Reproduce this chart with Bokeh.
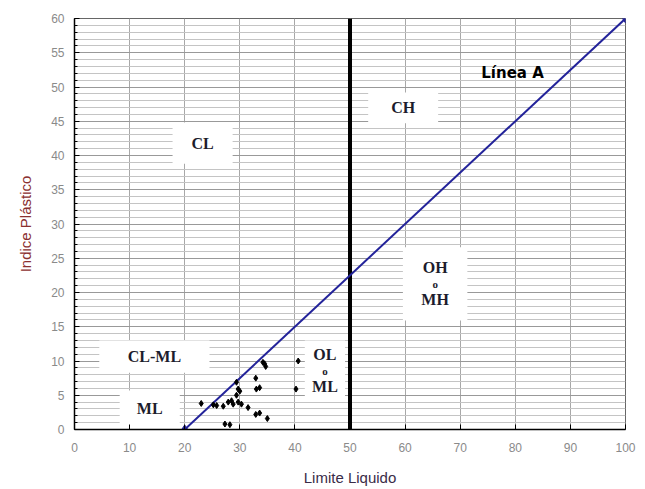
from bokeh.plotting import figure
from bokeh.models import ColumnDataSource, FixedTicker, Range1d, Label
from bokeh.embed import file_html
from bokeh.resources import INLINE

# ---- data ----
liquid_limit = [23.0, 25.2, 25.8, 27.0, 27.9, 28.5, 28.8, 29.4, 29.7, 29.4, 29.7, 30.0,
                30.3, 31.5, 32.9, 33.0, 33.6, 32.9, 33.6, 35.0, 34.2, 34.7, 34.5, 40.6,
                40.2, 27.3, 28.2]
plastic_index = [3.8, 3.6, 3.5, 3.4, 4.0, 4.2, 3.7, 5.0, 4.0, 6.9, 5.9, 5.6,
                 3.7, 3.2, 7.5, 5.9, 6.1, 2.2, 2.4, 1.6, 9.8, 9.2, 9.6, 10.0,
                 5.9, 0.8, 0.7]
a_line_ll = [20, 100]
a_line_pi = [0, 60]
boundary_ll = [50, 50]
boundary_pi = [0, 60]
x_ticks = [0, 10, 20, 30, 40, 50, 60, 70, 80, 90, 100]
y_ticks = [0, 5, 10, 15, 20, 25, 30, 35, 40, 45, 50, 55, 60]
y_minor = list(range(0, 61))

# zone labels: (text lines, box left, right, bottom, top)
zones = [
    (["CL"], 17.8, 28.7, 38.8, 44.8),
    (["CH"], 53.3, 66.0, 44.7, 49.2),
    (["OH", "o", "MH"], 59.6, 71.3, 15.9, 26.6),
    (["CL-ML"], 4.5, 24.5, 8.3, 13.0),
    (["ML"], 8.2, 19.1, 0.3, 5.7),
    (["OL", "o", "ML"], 41.8, 49.1, 4.2, 13.0),
]

p = figure(width=645, height=489, output_backend="svg", toolbar_location=None,
           x_range=Range1d(0, 100), y_range=Range1d(0, 60),
           min_border_left=74, min_border_right=20, min_border_top=18,
           min_border_bottom=60, background_fill_color="white",
           border_fill_color="white", outline_line_color="#666666")

# grid
p.xgrid.ticker = FixedTicker(ticks=x_ticks)
p.xgrid.grid_line_color = "#a8a8a8"
p.xgrid.grid_line_width = 1
p.ygrid.ticker = FixedTicker(ticks=y_ticks, minor_ticks=y_minor)
p.ygrid.grid_line_color = "#999999"
p.ygrid.minor_grid_line_color = "#c4c4c4"

# axes
p.xaxis.ticker = FixedTicker(ticks=x_ticks)
p.yaxis.ticker = FixedTicker(ticks=y_ticks, minor_ticks=y_minor)
for ax in (p.xaxis[0], p.yaxis[0]):
    ax.axis_line_color = "black"
    ax.axis_line_width = 1.5
    ax.major_tick_line_color = "black"
    ax.minor_tick_line_color = "black"
    ax.major_tick_in = 5
    ax.major_tick_out = 0
    ax.minor_tick_in = 3
    ax.minor_tick_out = 0
    ax.major_label_text_font = "Liberation Sans"
    ax.major_label_text_font_size = "12px"
    ax.major_label_text_color = "#8a8a8a"
    ax.axis_label_text_font = "Liberation Sans"
    ax.axis_label_text_font_size = "15px"
    ax.axis_label_text_font_style = "normal"
p.xaxis.minor_tick_line_color = None
p.xaxis.major_label_standoff = 13
p.yaxis.major_label_standoff = 10
p.xaxis.axis_label = "Limite Liquido"
p.xaxis.axis_label_text_color = "#3a2c48"
p.xaxis.axis_label_standoff = 14
p.yaxis.axis_label = "Indice Plástico"
p.yaxis.axis_label_text_color = "#8a3030"
p.yaxis.axis_label_standoff = 14

# white label boxes
p.quad(left=[z[1] for z in zones], right=[z[2] for z in zones],
       bottom=[z[3] for z in zones], top=[z[4] for z in zones],
       fill_color="white", line_color=None)

for lines, l, r, b, t in zones:
    cx = (l + r) / 2
    cy = (b + t) / 2
    if len(lines) == 1:
        p.add_layout(Label(x=cx, y=cy, text=lines[0], text_align="center",
                           text_baseline="middle", text_font="Liberation Serif",
                           text_font_style="bold", text_font_size="16px",
                           text_color="#1c1c2c"))
    else:
        offs = [16, 0, -16]
        sizes = ["16px", "11px", "16px"]
        for txt, dy, sz in zip(lines, offs, sizes):
            p.add_layout(Label(x=cx, y=cy, y_offset=dy, text=txt, text_align="center",
                               text_baseline="middle", text_font="Liberation Serif",
                               text_font_style="bold", text_font_size=sz,
                               text_color="#1c1c2c"))

# boundary LL = 50
p.line(boundary_ll, boundary_pi, line_color="black", line_width=4)

# A-line
p.line(a_line_ll, a_line_pi, line_color="#23239a", line_width=2)
p.scatter(a_line_ll, a_line_pi, marker="diamond", size=9, fill_color="#23239a",
          line_color="#23239a")
p.add_layout(Label(x=79.5, y=52.1, text="Línea A", text_align="center",
                   text_baseline="middle", text_font="DejaVu Sans",
                   text_font_style="bold", text_font_size="15px",
                   text_color="black"))

# samples
src = ColumnDataSource(dict(ll=liquid_limit, pi=plastic_index))
p.scatter("ll", "pi", source=src, marker="diamond", size=6,
          fill_color="black", line_color="black")

open("out.html", "w").write(file_html(p, INLINE))
